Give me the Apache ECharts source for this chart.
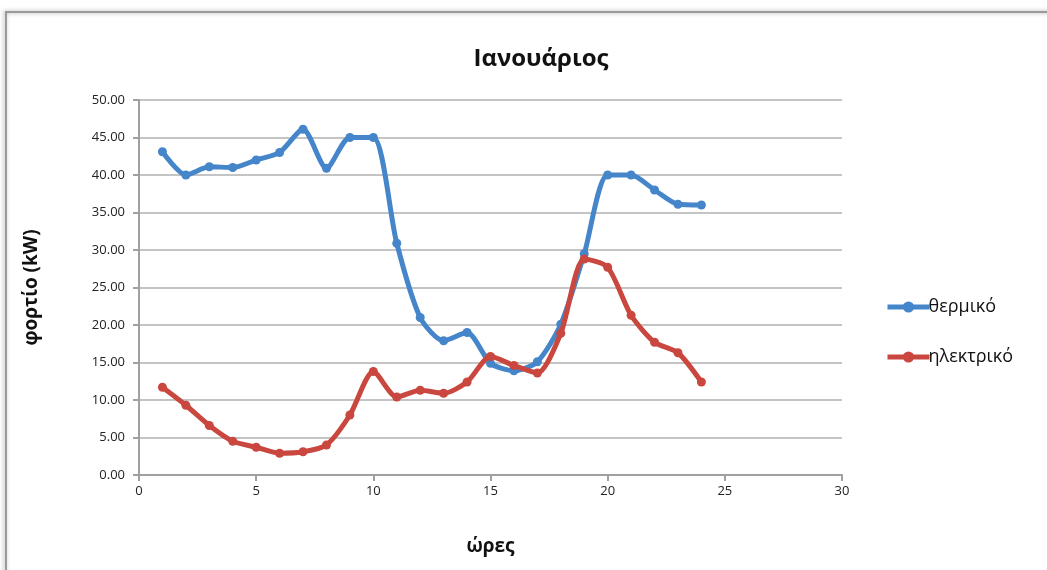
<!DOCTYPE html>
<html><head><meta charset="utf-8">
<script src="https://cdn.jsdelivr.net/npm/echarts@6/dist/echarts.min.js"></script>
<style>html,body{margin:0;padding:0;background:#fff}#c{width:1047px;height:570px}</style>
</head><body><div id="c"></div>
<script>
const hours = [1,2,3,4,5,6,7,8,9,10,11,12,13,14,15,16,17,18,19,20,21,22,23,24];
const thermal = [43.1,40.0,41.1,41.0,42.0,43.0,46.1,40.9,45.0,45.0,30.9,21.0,17.9,19.0,14.9,13.9,15.1,20.1,29.5,40.0,40.0,38.0,36.1,36.0];
const electric = [11.7,9.3,6.6,4.5,3.7,2.9,3.1,4.0,8.0,13.8,10.4,11.3,10.9,12.4,15.8,14.6,13.6,18.9,28.8,27.7,21.3,17.7,16.3,12.4];
const seriesNames = ['θερμικό','ηλεκτρικό'];
const colors = ['#4585c9','#c9473e'];
const font = '"Open Sans","Noto Sans",sans-serif';
const chart = echarts.init(document.getElementById('c'));
const mk = (arr) => hours.map((h,i)=>[h,arr[i]]);
chart.setOption({
  animation:false,
  title:{text:'Ιανουάριος',left:536,top:42,textAlign:'center',textStyle:{fontFamily:font,fontSize:24,fontWeight:'bold',color:'#111'}},
  graphic:[{type:'rect',shape:{x:6,y:12,width:1060,height:600},style:{fill:'none',stroke:'#9a9a9a',lineWidth:2,shadowBlur:4,shadowColor:'rgba(0,0,0,0.35)',shadowOffsetX:-1}}],
  grid:{left:139,right:205,top:100,bottom:95},
  legend:{orient:'vertical',left:880,top:293,itemGap:32,itemWidth:42,itemHeight:14,
    lineStyle:{width:5},
    textStyle:{fontFamily:font,fontSize:18,color:'#111',padding:[0,0,0,-6]},data:seriesNames},
  xAxis:{type:'value',min:0,max:30,interval:5,
    name:'ώρες',nameLocation:'middle',nameGap:62,nameTextStyle:{fontFamily:font,fontSize:19,fontWeight:'bold',color:'#111'},
    axisLine:{lineStyle:{color:'#a0a0a0',width:2}},axisTick:{show:true,length:6,lineStyle:{color:'#a0a0a0',width:2}},
    axisLabel:{fontFamily:font,fontSize:13,color:'#222',margin:10},splitLine:{show:false}},
  yAxis:{type:'value',min:0,max:50,interval:5,
    name:'φορτίο (kW)',nameLocation:'middle',nameGap:98,nameRotate:90,nameTextStyle:{fontFamily:font,fontSize:19,fontWeight:'bold',color:'#111'},
    axisLine:{show:true,lineStyle:{color:'#a0a0a0',width:2}},axisTick:{show:true,length:6,lineStyle:{color:'#a0a0a0',width:2}},
    axisLabel:{fontFamily:font,fontSize:13,color:'#222',margin:14,formatter:v=>v.toFixed(2)},
    splitLine:{lineStyle:{color:'#c4c4c4',width:2}}},
  series:[
    {name:seriesNames[0],type:'line',data:mk(thermal),smooth:0.25,symbol:'circle',symbolSize:9,
      lineStyle:{width:5,color:colors[0]},itemStyle:{color:colors[0]},z:2},
    {name:seriesNames[1],type:'line',data:mk(electric),smooth:0.25,symbol:'circle',symbolSize:9,
      lineStyle:{width:5,color:colors[1]},itemStyle:{color:colors[1]},z:3}
  ]
});
</script></body></html>
